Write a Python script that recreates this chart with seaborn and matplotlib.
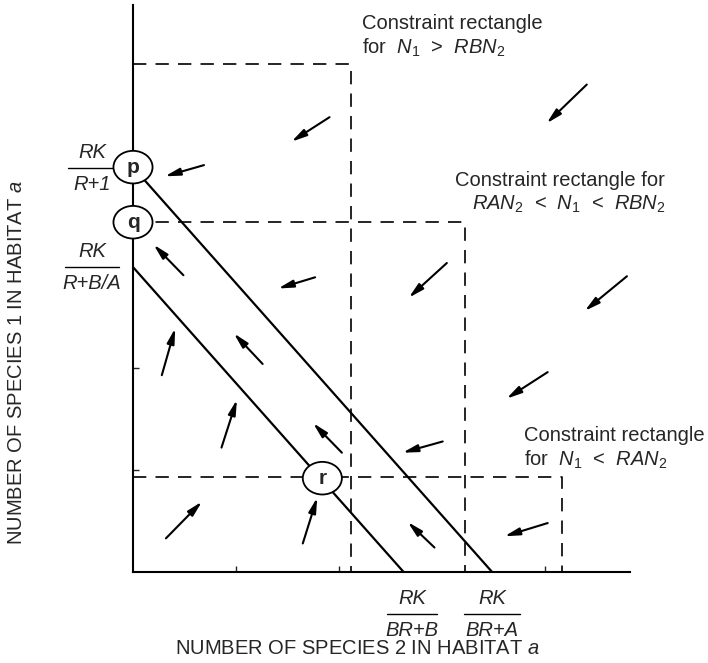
import matplotlib
matplotlib.use("Agg")
import matplotlib.pyplot as plt
from matplotlib.patches import Ellipse
import seaborn as sns

# equilibrium points p, q (on the N1 axis) and r (interior)
point_names = ["p", "q", "r"]
point_x = [0.0, 0.0, 1.84]
point_y = [3.97, 3.43, 0.92]

# the two isoclines: intercept on N1 axis, intercept on N2 axis
iso_y0 = [3.97, 2.99]
iso_x0 = [3.49, 2.63]

# constraint rectangles: top edge and right edge
rect_top = [4.98, 3.43, 0.93]
rect_right = [2.12, 3.23, 4.17]

# flow arrows, tail -> head
arrow_tail_x = [1.91, 0.69, 4.41, 3.05, 4.80, 4.03, 3.01, 0.49, 1.77, 0.28, 1.26, 0.86, 2.03, 0.32, 1.65, 2.93, 4.03]
arrow_tail_y = [4.46, 3.99, 4.78, 3.03, 2.90, 1.96, 1.28, 2.91, 2.89, 1.93, 2.04, 1.22, 1.17, 0.33, 0.28, 0.24, 0.48]
arrow_head_x = [1.54, 0.31, 4.02, 2.68, 4.39, 3.63, 2.62, 0.20, 1.41, 0.41, 0.98, 1.01, 1.75, 0.67, 1.79, 2.67, 3.61]
arrow_head_y = [4.22, 3.88, 4.40, 2.69, 2.56, 1.70, 1.17, 3.21, 2.78, 2.39, 2.34, 1.69, 1.46, 0.69, 0.73, 0.49, 0.35]

x_ticks = [1, 2, 4]
y_ticks = [1, 2]

sns.set_style("white")
plt.rcParams['font.family'] = ['Liberation Sans', 'DejaVu Sans']
plt.rcParams['mathtext.fontset'] = 'custom'
plt.rcParams['mathtext.rm'] = 'Liberation Sans'
plt.rcParams['mathtext.it'] = 'Liberation Sans:italic'
plt.rcParams['mathtext.bf'] = 'Liberation Sans:bold'


def fraction(ax, x, y, num, den, width, fs=14.5):
    # numerator / bar / denominator stacked around y
    ax.text(x, y + 0.15, num, ha='center', va='center', style='italic', fontsize=fs, clip_on=False)
    ax.plot([x - width / 2, x + width / 2], [y, y], color='black', lw=1.0, clip_on=False)
    ax.text(x, y - 0.16, den, ha='center', va='center', style='italic', fontsize=fs, clip_on=False)


fig = plt.figure(figsize=(7.08, 6.63), dpi=100)
ax = fig.add_axes([133 / 708, 91 / 663, 497 / 708, 567 / 663])

# constraint rectangles (dashed)
for top, right in zip(rect_top, rect_right):
    sns.lineplot(x=[0, right, right], y=[top, top, 0], estimator=None, sort=False,
                 color='black', lw=1.2, linestyle=(0, (8, 5.5)), ax=ax)

# isoclines
for y0, x0 in zip(iso_y0, iso_x0):
    sns.lineplot(x=[0, x0], y=[y0, 0], estimator=None, sort=False,
                 color='black', lw=1.6, ax=ax)

# arrows
for tx, ty, hx, hy in zip(arrow_tail_x, arrow_tail_y, arrow_head_x, arrow_head_y):
    ax.annotate("", xy=(hx, hy), xytext=(tx, ty),
                arrowprops=dict(arrowstyle="-|>,head_length=0.9,head_width=0.22",
                                color='black', lw=1.5, shrinkA=0, shrinkB=0,
                                mutation_scale=10))

# equilibrium circles
for name, px, py in zip(point_names, point_x, point_y):
    ax.add_patch(Ellipse((px, py), 0.38, 0.32, facecolor='white', edgecolor='black',
                         lw=1.3, zorder=5, clip_on=False))
    ax.text(px, py, name, ha='center', va='center', fontsize=15, fontweight='bold', zorder=6)

fraction(ax, -0.40, point_y[0] - 0.01, "RK", "R+1", 0.46)
fraction(ax, -0.40, iso_y0[1], "RK", "R+B/A", 0.52)
fraction(ax, iso_x0[1] + 0.08, -0.41, "RK", "BR+B", 0.48)
fraction(ax, iso_x0[0], -0.41, "RK", "BR+A", 0.54)

ax.text(2.23, 5.38, "Constraint rectangle", fontsize=14.5, va='center')
ax.text(2.23, 5.14, "for  $N_1$  >  $RBN_2$", fontsize=14.5, va='center')
ax.text(3.13, 3.84, "Constraint rectangle for", fontsize=14.5, va='center')
ax.text(3.29, 3.61, "$RAN_2$  <  $N_1$  <  $RBN_2$", fontsize=14.5, va='center')
ax.text(3.80, 1.34, "Constraint rectangle", fontsize=14.5, va='center')
ax.text(3.80, 1.10, "for  $N_1$  <  $RAN_2$", fontsize=14.5, va='center')

ax.set_xlim(0, 4.83)
ax.set_ylim(0, 5.56)
ax.set_xticks(x_ticks)
ax.set_yticks(y_ticks)
ax.tick_params(direction='in', length=4, width=1, labelbottom=False, labelleft=False,
               bottom=True, left=True)
for side in ['top', 'right']:
    ax.spines[side].set_visible(False)
for side in ['left', 'bottom']:
    ax.spines[side].set_color('black')
    ax.spines[side].set_linewidth(1.5)

ax.set_xlabel("NUMBER OF SPECIES 2 IN HABITAT $a$", fontsize=14.5)
ax.set_ylabel("NUMBER OF SPECIES 1 IN HABITAT $a$", fontsize=14.5)
ax.xaxis.set_label_coords(0.451, -0.118)
ax.yaxis.set_label_coords(-0.215, 0.37)

fig.savefig("out.png", dpi=100)
